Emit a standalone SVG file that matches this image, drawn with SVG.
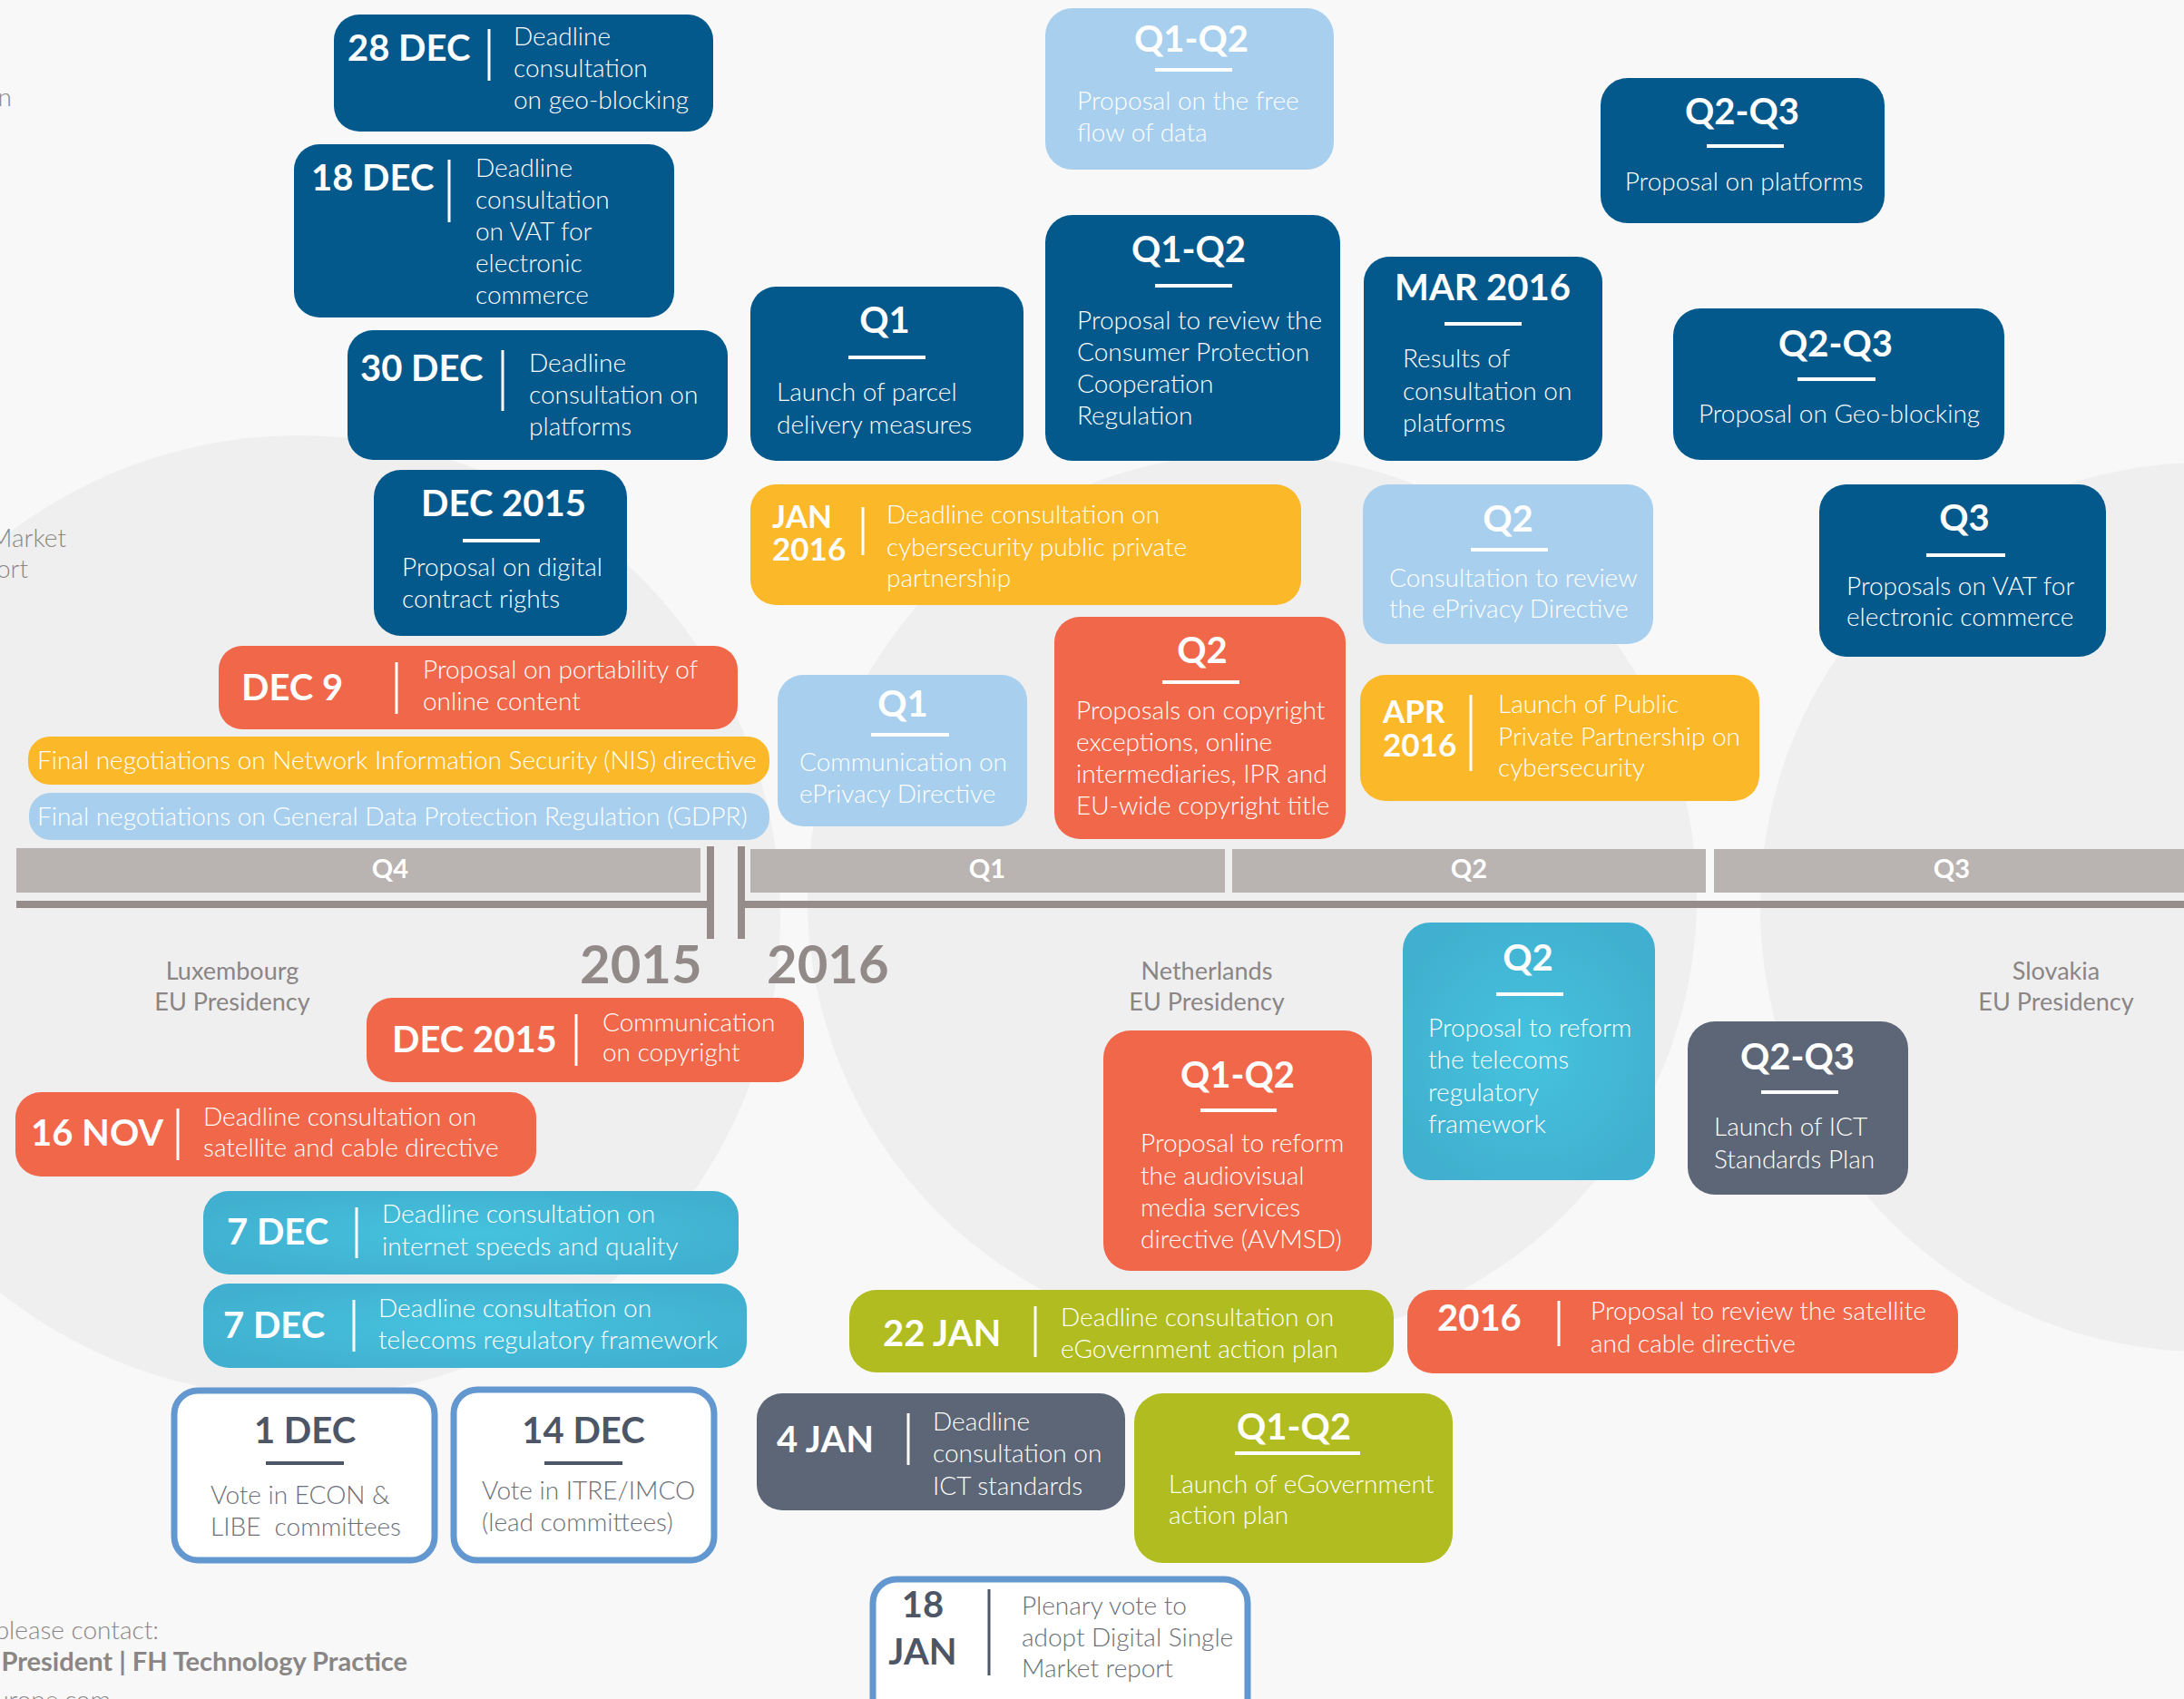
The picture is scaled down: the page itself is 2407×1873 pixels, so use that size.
<svg xmlns="http://www.w3.org/2000/svg" width="2407" height="1873" viewBox="0 0 2407 1873">
<defs>
<radialGradient id="cyg" cx="50%" cy="50%" r="60%">
<stop offset="0" stop-color="#45c3de"/>
<stop offset="1" stop-color="#41afcf"/>
</radialGradient>
</defs>
<style>
.db{fill:#03588c}
.lb{fill:#a8d0ee}
.or{fill:#f1674a}
.ye{fill:#fbb829}
.cy{fill:url(#cyg)}
.sl{fill:#5c6676}
.ol{fill:#b0bc20}
.ob{fill:#ffffff;stroke:#6397d0;stroke-width:7}
text{font-family:Lato,"Open Sans","Liberation Sans",sans-serif}
.t{font-weight:300;font-size:28px;fill:#ffffff}
.h{font-weight:700;font-size:40px;fill:#ffffff}
.hs{font-weight:700;font-size:35px;fill:#ffffff}
.m{text-anchor:middle}
.dv{stroke:#ffffff;stroke-width:3}
.ul{stroke:#ffffff;stroke-width:4}
.dk{fill:#4d5666}
.gy{fill:#6b6f78}
.dks{stroke:#4d5666}
.bg{fill:#eeeded}
.bar{fill:#b9b3b2}
.ax{fill:#968c8a}
.ql{font-weight:700;font-size:29px;fill:#ffffff;text-anchor:middle}
.yr{font-weight:700;font-size:58px;fill:#928a88}
.pr{font-weight:400;font-size:27px;fill:#8a8685;text-anchor:middle}
.edge{font-weight:300;font-size:28px;fill:#8a8685;text-anchor:end}
</style>
<rect width="2407" height="1873" fill="#f8f8f8"/>
<g id="background">
<circle class="bg" cx="330" cy="1010" r="530" opacity="0.9"/>
<circle class="bg" cx="1380" cy="990" r="490" opacity="0.9"/>
<circle class="bg" cx="2430" cy="1000" r="490" opacity="0.9"/>
</g>
<g id="timeline">
<rect class="bar" x="18" y="935" width="754" height="49"/>
<rect class="bar" x="827" y="936" width="523" height="48"/>
<rect class="bar" x="1358" y="936" width="522" height="48"/>
<rect class="bar" x="1889" y="936" width="518" height="48"/>
<rect class="ax" x="18" y="993" width="769" height="8"/>
<rect class="ax" x="813" y="993" width="1594" height="8"/>
<rect class="ax" x="779" y="933" width="8" height="102"/>
<rect class="ax" x="813" y="933" width="8" height="102"/>
<text class="ql" x="430" y="968">Q4</text>
<text class="ql" x="1088" y="968">Q1</text>
<text class="ql" x="1619" y="968">Q2</text>
<text class="ql" x="2151" y="968">Q3</text>
<text class="yr" x="639" y="1084">2015</text>
<text class="yr" x="845" y="1084">2016</text>
<text class="pr" x="256" y="1080">Luxembourg</text>
<text class="pr" x="256" y="1114">EU Presidency</text>
<text class="pr" x="1330" y="1080">Netherlands</text>
<text class="pr" x="1330" y="1114">EU Presidency</text>
<text class="pr" x="2266" y="1080">Slovakia</text>
<text class="pr" x="2266" y="1114">EU Presidency</text>
</g>
<g id="edge-text">
<text class="edge" x="13" y="117">n</text>
<text class="edge" x="73" y="603">Market</text>
<text class="edge" x="31" y="637">ort</text>
<text class="edge" x="175" y="1807">please contact:</text>
<text class="edge" x="449" y="1842" style="font-weight:700;font-size:29px">e President | FH Technology Practice</text>
<text class="edge" x="122" y="1884">urope.com</text>
</g>
<g id="n-28dec">
<rect class="db" x="368" y="16" width="418" height="129" rx="28"/>
<text class="h" x="383" y="67">28 DEC</text>
<line class="dv" x1="539" y1="32" x2="539" y2="89"/>
<text class="t" x="566" y="50">Deadline</text>
<text class="t" x="566" y="85">consultation</text>
<text class="t" x="566" y="120">on geo-blocking</text>
</g>
<g id="n-18dec">
<rect class="db" x="324" y="159" width="419" height="191" rx="28"/>
<text class="h" x="343" y="210">18 DEC</text>
<line class="dv" x1="495" y1="176" x2="495" y2="245"/>
<text class="t" x="524" y="195">Deadline</text>
<text class="t" x="524" y="230">consultation</text>
<text class="t" x="524" y="265">on VAT for</text>
<text class="t" x="524" y="300">electronic</text>
<text class="t" x="524" y="335">commerce</text>
</g>
<g id="n-30dec">
<rect class="db" x="383" y="364" width="419" height="143" rx="28"/>
<text class="h" x="397" y="420">30 DEC</text>
<line class="dv" x1="554" y1="386" x2="554" y2="453"/>
<text class="t" x="583" y="410">Deadline</text>
<text class="t" x="583" y="445">consultation on</text>
<text class="t" x="583" y="480">platforms</text>
</g>
<g id="n-dec2015-contract">
<rect class="db" x="412" y="518" width="279" height="183" rx="30"/>
<text class="h m" x="555" y="569">DEC 2015</text>
<line class="ul" x1="510" y1="596" x2="595" y2="596"/>
<text class="t" x="443" y="635">Proposal on digital</text>
<text class="t" x="443" y="670">contract rights</text>
</g>
<g id="n-dec9">
<rect class="or" x="241" y="712" width="572" height="92" rx="26"/>
<text class="h" x="266" y="772">DEC 9</text>
<line class="dv" x1="437" y1="730" x2="437" y2="787"/>
<text class="t" x="466" y="748">Proposal on portability of</text>
<text class="t" x="466" y="783">online content</text>
</g>
<g id="n-nis">
<rect class="ye" x="31" y="812" width="817" height="53" rx="24"/>
<text class="t" x="41" y="848">Final negotiations on Network Information Security (NIS) directive</text>
</g>
<g id="n-gdpr">
<rect class="lb" x="32" y="874" width="816" height="52" rx="24"/>
<text class="t" x="41" y="910">Final negotiations on General Data Protection Regulation (GDPR)</text>
</g>
<g id="n-q1-eprivacy">
<rect class="lb" x="857" y="744" width="275" height="167" rx="28"/>
<text class="h m" x="995" y="790">Q1</text>
<line class="ul" x1="960" y1="810" x2="1046" y2="810"/>
<text class="t" x="881" y="850">Communication on</text>
<text class="t" x="881" y="885">ePrivacy Directive</text>
</g>
<g id="n-q2-copyright">
<rect class="or" x="1162" y="680" width="321" height="245" rx="28"/>
<text class="h m" x="1325" y="731">Q2</text>
<line class="ul" x1="1281" y1="752" x2="1366" y2="752"/>
<text class="t" x="1186" y="793">Proposals on copyright</text>
<text class="t" x="1186" y="828">exceptions, online</text>
<text class="t" x="1186" y="863">intermediaries, IPR and</text>
<text class="t" x="1186" y="898">EU-wide copyright title</text>
</g>
<g id="n-jan2016">
<rect class="ye" x="827" y="534" width="607" height="133" rx="28"/>
<text class="hs" x="851" y="582">JAN<tspan x="851" dy="36">2016</tspan></text>
<line class="dv" x1="951" y1="559" x2="951" y2="612"/>
<text class="t" x="977" y="577">Deadline consultation on</text>
<text class="t" x="977" y="613">cybersecurity public private</text>
<text class="t" x="977" y="647">partnership</text>
</g>
<g id="n-q2-eprivacy">
<rect class="lb" x="1502" y="534" width="320" height="176" rx="28"/>
<text class="h m" x="1662" y="586">Q2</text>
<line class="ul" x1="1621" y1="606" x2="1706" y2="606"/>
<text class="t" x="1531" y="647">Consultation to review</text>
<text class="t" x="1531" y="681">the ePrivacy Directive</text>
</g>
<g id="n-apr2016">
<rect class="ye" x="1499" y="744" width="440" height="139" rx="28"/>
<text class="hs" x="1524" y="797">APR<tspan x="1524" dy="37">2016</tspan></text>
<line class="dv" x1="1621" y1="766" x2="1621" y2="850"/>
<text class="t" x="1651" y="786">Launch of Public</text>
<text class="t" x="1651" y="822">Private Partnership on</text>
<text class="t" x="1651" y="856">cybersecurity</text>
</g>
<g id="n-q1q2-data">
<rect class="lb" x="1152" y="9" width="318" height="178" rx="30"/>
<text class="h m" x="1313" y="57">Q1-Q2</text>
<line class="ul" x1="1273" y1="77" x2="1358" y2="77"/>
<text class="t" x="1187" y="121">Proposal on the free</text>
<text class="t" x="1187" y="156">flow of data</text>
</g>
<g id="n-q1-parcel">
<rect class="db" x="827" y="316" width="301" height="192" rx="28"/>
<text class="h m" x="975" y="367">Q1</text>
<line class="ul" x1="935" y1="394" x2="1020" y2="394"/>
<text class="t" x="856" y="442">Launch of parcel</text>
<text class="t" x="856" y="478">delivery measures</text>
</g>
<g id="n-q1q2-cpc">
<rect class="db" x="1152" y="237" width="325" height="271" rx="30"/>
<text class="h m" x="1310" y="289">Q1-Q2</text>
<line class="ul" x1="1273" y1="315" x2="1358" y2="315"/>
<text class="t" x="1187" y="363">Proposal to review the</text>
<text class="t" x="1187" y="398">Consumer Protection</text>
<text class="t" x="1187" y="433">Cooperation</text>
<text class="t" x="1187" y="468">Regulation</text>
</g>
<g id="n-mar2016">
<rect class="db" x="1503" y="283" width="263" height="225" rx="28"/>
<text class="h m" x="1634" y="331">MAR 2016</text>
<line class="ul" x1="1592" y1="357" x2="1677" y2="357"/>
<text class="t" x="1546" y="405">Results of</text>
<text class="t" x="1546" y="441">consultation on</text>
<text class="t" x="1546" y="476">platforms</text>
</g>
<g id="n-q2q3-platforms">
<rect class="db" x="1764" y="86" width="313" height="160" rx="30"/>
<text class="h m" x="1920" y="137">Q2-Q3</text>
<line class="ul" x1="1881" y1="161" x2="1966" y2="161"/>
<text class="t m" x="1922" y="210">Proposal on platforms</text>
</g>
<g id="n-q2q3-geo">
<rect class="db" x="1844" y="340" width="365" height="167" rx="30"/>
<text class="h m" x="2023" y="393">Q2-Q3</text>
<line class="ul" x1="1981" y1="418" x2="2067" y2="418"/>
<text class="t m" x="2027" y="466">Proposal on Geo-blocking</text>
</g>
<g id="n-q3-vat">
<rect class="db" x="2005" y="534" width="316" height="190" rx="30"/>
<text class="h m" x="2165" y="585">Q3</text>
<line class="ul" x1="2123" y1="612" x2="2210" y2="612"/>
<text class="t" x="2035" y="656">Proposals on VAT for</text>
<text class="t" x="2035" y="690">electronic commerce</text>
</g>
<g id="n-q1q2-avmsd">
<rect class="or" x="1216" y="1136" width="296" height="265" rx="30"/>
<text class="h m" x="1364" y="1199">Q1-Q2</text>
<line class="ul" x1="1323" y1="1224" x2="1407" y2="1224"/>
<text class="t" x="1257" y="1270">Proposal to reform</text>
<text class="t" x="1257" y="1306">the audiovisual</text>
<text class="t" x="1257" y="1341">media services</text>
<text class="t" x="1257" y="1376">directive (AVMSD)</text>
</g>
<g id="n-22jan">
<rect class="ol" x="936" y="1422" width="600" height="91" rx="30"/>
<text class="h" x="973" y="1484">22 JAN</text>
<line class="dv" x1="1141" y1="1440" x2="1141" y2="1496"/>
<text class="t" x="1169" y="1462">Deadline consultation on</text>
<text class="t" x="1169" y="1497">eGovernment action plan</text>
</g>
<g id="n-4jan">
<rect class="sl" x="834" y="1536" width="406" height="129" rx="28"/>
<text class="h" x="856" y="1601">4 JAN</text>
<line class="dv" x1="1001" y1="1558" x2="1001" y2="1615"/>
<text class="t" x="1028" y="1577">Deadline</text>
<text class="t" x="1028" y="1612">consultation on</text>
<text class="t" x="1028" y="1648">ICT standards</text>
</g>
<g id="n-q1q2-egov">
<rect class="ol" x="1250" y="1536" width="351" height="187" rx="32"/>
<text class="h m" x="1426" y="1587">Q1-Q2</text>
<line class="ul" x1="1361" y1="1602" x2="1499" y2="1602"/>
<text class="t" x="1288" y="1646">Launch of eGovernment</text>
<text class="t" x="1288" y="1680">action plan</text>
</g>
<g id="n-18jan">
<rect class="ob" x="962" y="1741" width="413" height="160" rx="26"/>
<text class="h m dk" x="1017" y="1783">18<tspan x="1017" dy="52">JAN</tspan></text>
<line class="dv dks" x1="1090" y1="1752" x2="1090" y2="1847"/>
<text class="t gy" x="1126" y="1780">Plenary vote to</text>
<text class="t gy" x="1126" y="1815">adopt Digital Single</text>
<text class="t gy" x="1126" y="1849">Market report</text>
</g>
<g id="n-q2-telecoms">
<rect class="cy" x="1546" y="1017" width="278" height="284" rx="30"/>
<text class="h m" x="1684" y="1070">Q2</text>
<line class="ul" x1="1649" y1="1096" x2="1723" y2="1096"/>
<text class="t" x="1574" y="1143">Proposal to reform</text>
<text class="t" x="1574" y="1178">the telecoms</text>
<text class="t" x="1574" y="1214">regulatory</text>
<text class="t" x="1574" y="1249">framework</text>
</g>
<g id="n-q2q3-ict">
<rect class="sl" x="1860" y="1126" width="243" height="191" rx="30"/>
<text class="h m" x="1981" y="1179">Q2-Q3</text>
<line class="ul" x1="1941" y1="1204" x2="2026" y2="1204"/>
<text class="t" x="1889" y="1252">Launch of ICT</text>
<text class="t" x="1889" y="1288">Standards Plan</text>
</g>
<g id="n-2016-satellite">
<rect class="or" x="1551" y="1422" width="607" height="92" rx="28"/>
<text class="h" x="1584" y="1467">2016</text>
<line class="dv" x1="1718" y1="1434" x2="1718" y2="1484"/>
<text class="t" x="1753" y="1455">Proposal to review the satellite</text>
<text class="t" x="1753" y="1491">and cable directive</text>
</g>
<g id="n-dec2015-copyright">
<rect class="or" x="404" y="1100" width="482" height="93" rx="28"/>
<text class="h" x="432" y="1160">DEC 2015</text>
<line class="dv" x1="635" y1="1118" x2="635" y2="1175"/>
<text class="t" x="664" y="1137">Communication</text>
<text class="t" x="664" y="1170">on copyright</text>
</g>
<g id="n-16nov">
<rect class="or" x="17" y="1204" width="574" height="93" rx="28"/>
<text class="h" x="34" y="1263">16 NOV</text>
<line class="dv" x1="196" y1="1222" x2="196" y2="1279"/>
<text class="t" x="224" y="1241">Deadline consultation on</text>
<text class="t" x="224" y="1275">satellite and cable directive</text>
</g>
<g id="n-7dec-internet">
<rect class="cy" x="224" y="1313" width="590" height="92" rx="28"/>
<text class="h" x="250" y="1372">7 DEC</text>
<line class="dv" x1="393" y1="1331" x2="393" y2="1387"/>
<text class="t" x="421" y="1348">Deadline consultation on</text>
<text class="t" x="421" y="1384">internet speeds and quality</text>
</g>
<g id="n-7dec-telecoms">
<rect class="cy" x="224" y="1415" width="599" height="93" rx="28"/>
<text class="h" x="246" y="1475">7 DEC</text>
<line class="dv" x1="390" y1="1433" x2="390" y2="1490"/>
<text class="t" x="417" y="1452">Deadline consultation on</text>
<text class="t" x="417" y="1487">telecoms regulatory framework</text>
</g>
<g id="n-1dec">
<rect class="ob" x="192" y="1533" width="287" height="187" rx="26"/>
<text class="h m dk" x="336" y="1591">1 DEC</text>
<line class="ul dks" x1="293" y1="1613" x2="379" y2="1613"/>
<text class="t gy" x="232" y="1658">Vote in ECON &amp;</text>
<text class="t gy" x="232" y="1693" style="white-space:pre">LIBE  committees</text>
</g>
<g id="n-14dec">
<rect class="ob" x="500" y="1532" width="287" height="188" rx="26"/>
<text class="h m dk" x="643" y="1591">14 DEC</text>
<line class="ul dks" x1="600" y1="1613" x2="686" y2="1613"/>
<text class="t gy" x="531" y="1653">Vote in ITRE/IMCO</text>
<text class="t gy" x="531" y="1688">(lead committees)</text>
</g>
</svg>
